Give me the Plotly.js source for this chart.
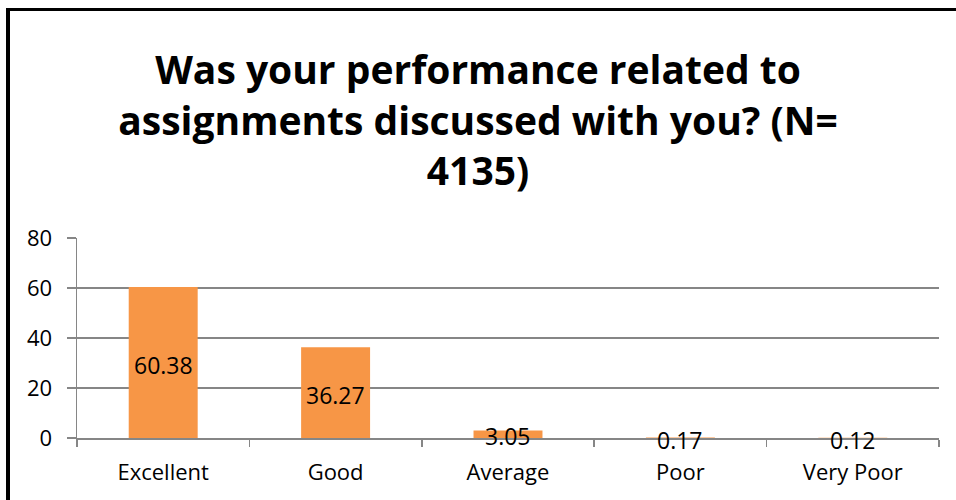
<!DOCTYPE html>
<html>
<head>
<meta charset="utf-8">
<script src="https://cdn.plot.ly/plotly-3.0.1.min.js"></script>
<style>
  html, body { margin: 0; padding: 0; background: #fff; }
  #wrap { position: relative; width: 956px; height: 500px; overflow: hidden; }
  #chart { width: 956px; height: 500px; }
  #frame { position: absolute; left: 6px; top: 8px; right: -10px; bottom: -10px;
           border-left: 4px solid #000; border-top: 3px solid #000; pointer-events: none; }
</style>
</head>
<body>
<div id="wrap">
  <div id="chart"></div>
  <div id="frame"></div>
</div>
<script>
const categories = ["Excellent", "Good", "Average", "Poor", "Very Poor"];
const values = [60.38, 36.27, 3.05, 0.17, 0.12];
const valueLabels = ["60.38", "36.27", "3.05", "0.17", "0.12"];
const yTicks = [0, 20, 40, 60, 80];
const titleText = "Was your performance related to<br>assignments discussed with you? (N=<br>4135)";

const FONT = "'Open Sans', 'Noto Sans', sans-serif";

const bars = {
  type: "bar",
  x: categories,
  y: values,
  width: 0.4,
  marker: { color: "#F79646", line: { width: 0 } },
  hoverinfo: "skip",
  showlegend: false
};

const labelAnnotations = categories.map((c, i) => ({
  x: c,
  y: values[i] / 2,
  xref: "x",
  yref: "y",
  text: valueLabels[i],
  showarrow: false,
  xanchor: "center",
  yanchor: "middle",
  yshift: -2,
  font: { family: FONT, size: 23, color: "#000" }
}));

const layout = {
  width: 956,
  height: 500,
  paper_bgcolor: "#fff",
  plot_bgcolor: "#fff",
  margin: { l: 77, r: 17, t: 238, b: 62 },
  font: { family: FONT, size: 22, color: "#000" },
  title: {
    text: titleText,
    font: { family: FONT, size: 39, color: "#000", weight: "bold" },
    x: 0.5, xanchor: "center",
    y: 1 - 84 / 500, yanchor: "middle",
    yref: "container"
  },
  annotations: labelAnnotations,
  xaxis: {
    type: "category",
    showgrid: false,
    showline: true,
    linecolor: "#868686",
    linewidth: 1.5,
    ticks: "outside",
    tickson: "boundaries",
    ticklen: 7,
    tickwidth: 1.5,
    tickcolor: "#868686",
    ticklabelstandoff: 14,
    tickfont: { family: FONT, size: 22, color: "#000" },
    zeroline: false,
    fixedrange: true
  },
  yaxis: {
    range: [0, 80],
    tickvals: yTicks,
    ticktext: yTicks.map(String),
    showgrid: true,
    gridcolor: "#868686",
    gridwidth: 1.5,
    showline: true,
    linecolor: "#868686",
    linewidth: 1.5,
    ticks: "outside",
    ticklen: 9,
    tickwidth: 1.5,
    tickcolor: "#868686",
    ticklabelstandoff: 10,
    tickfont: { family: FONT, size: 22, color: "#000" },
    zeroline: false,
    fixedrange: true
  },
  bargap: 0.6
};

Plotly.newPlot("chart", [bars], layout, { displayModeBar: false, staticPlot: true });
</script>
</body>
</html>
